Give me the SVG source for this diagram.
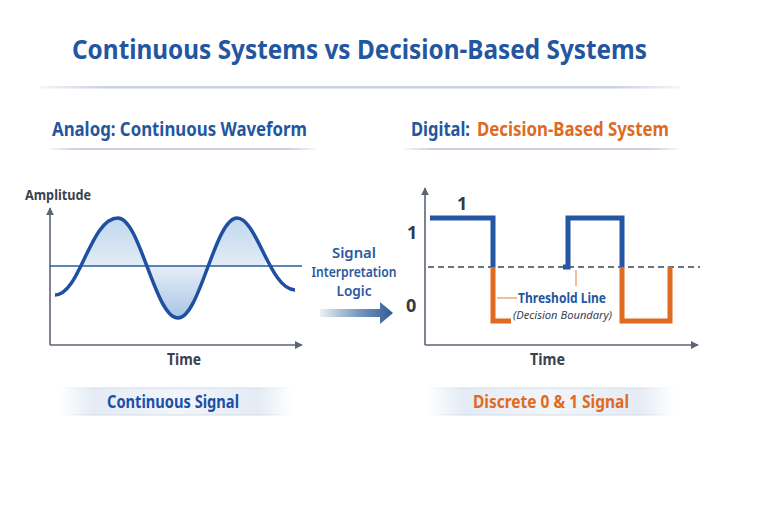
<svg xmlns="http://www.w3.org/2000/svg" width="768" height="512" viewBox="0 0 768 512">
<defs>
<style>
.t{font-family:"Noto Sans","Open Sans","Liberation Sans",sans-serif;font-weight:700}
.title{font-size:27px;fill:#2456a0}
.sub{font-size:19px;fill:#2456a0}
.axlab{font-size:14.5px;fill:#3a4250}
.time{font-size:16px;fill:#3a4250}
.mid{font-size:15px;font-weight:600;fill:#2a5aa0}
.bigdig{font-size:18px;fill:#333a44}
.axis{stroke:#5c6573;stroke-width:1.6;fill:none}
.blue{stroke:#2456a4;stroke-width:5;fill:none;stroke-linecap:butt;stroke-linejoin:miter}
.orange{stroke:#e06a1f;stroke-width:5;fill:none;stroke-linecap:butt;stroke-linejoin:miter}
</style>
<marker id="ah" viewBox="0 0 10 10" refX="9" refY="5" markerWidth="8" markerHeight="8" markerUnits="userSpaceOnUse" orient="auto">
<path d="M0,0 L10,5 L0,10 Z" fill="#5c6573"/>
</marker>
<linearGradient id="uline" x1="0" x2="1" y1="0" y2="0">
<stop offset="0" stop-color="#c9d2de" stop-opacity="0.2"/>
<stop offset="0.1" stop-color="#c9d2de"/>
<stop offset="0.9" stop-color="#c9d2de"/>
<stop offset="1" stop-color="#c9d2de" stop-opacity="0.2"/>
</linearGradient>
<linearGradient id="arrowg" x1="0" x2="1" y1="0" y2="0">
<stop offset="0" stop-color="#2c5a9c" stop-opacity="0.08"/>
<stop offset="0.6" stop-color="#4a72a8" stop-opacity="0.8"/>
<stop offset="1" stop-color="#2e5a96"/>
</linearGradient>
<linearGradient id="wavefill" x1="0" x2="0" y1="0" y2="1">
<stop offset="0" stop-color="#c2d7ee"/>
<stop offset="0.5" stop-color="#e3edf7"/>
<stop offset="1" stop-color="#a9c4e4"/>
</linearGradient>
<linearGradient id="band" x1="0" x2="1" y1="0" y2="0">
<stop offset="0" stop-color="#e4ebf4" stop-opacity="0"/>
<stop offset="0.15" stop-color="#e4ebf4"/>
<stop offset="0.5" stop-color="#f2f6fa"/>
<stop offset="0.85" stop-color="#e4ebf4"/>
<stop offset="1" stop-color="#e4ebf4" stop-opacity="0"/>
</linearGradient>
<linearGradient id="bandedge" x1="0" x2="1" y1="0" y2="0">
<stop offset="0" stop-color="#d4dce6" stop-opacity="0"/>
<stop offset="0.15" stop-color="#d4dce6"/>
<stop offset="0.85" stop-color="#d4dce6"/>
<stop offset="1" stop-color="#d4dce6" stop-opacity="0"/>
</linearGradient>
<clipPath id="wclip"><rect x="83" y="200" width="182" height="130"/></clipPath>
</defs>
<rect width="768" height="512" fill="#ffffff"/>

<g id="title">
<text class="t title" x="72" y="59" textLength="575" lengthAdjust="spacingAndGlyphs">Continuous Systems vs Decision-Based Systems</text>
<rect x="40" y="86" width="640" height="2.5" fill="url(#uline)"/>
</g>

<g id="analog-header">
<text class="t sub" x="52" y="136" textLength="255" lengthAdjust="spacingAndGlyphs">Analog: Continuous Waveform</text>
<rect x="50" y="148" width="266" height="2" fill="url(#uline)"/>
</g>

<g id="digital-header">
<text class="t sub" x="411" y="136" textLength="59" lengthAdjust="spacingAndGlyphs">Digital:</text>
<text class="t sub" x="477" y="136" fill="#e06a1f" style="fill:#e06a1f" textLength="192" lengthAdjust="spacingAndGlyphs">Decision-Based System</text>
<rect x="404" y="148" width="274" height="2" fill="url(#uline)"/>
</g>

<g id="analog-chart">
<text class="t axlab" x="25" y="200" textLength="66" lengthAdjust="spacingAndGlyphs">Amplitude</text>
<path class="axis" d="M50,345 L50,208" marker-end="url(#ah)"/>
<path class="axis" d="M50,345 L302,345" marker-end="url(#ah)"/>
<path d="M55,295 C80,295 90,218 118,218 C140,218 155,318 178,318 C200,318 215,218 237,218 C257,218 270,290 295,290 L295,266 L55,266 Z" fill="url(#wavefill)" clip-path="url(#wclip)"/>
<line x1="50" y1="266" x2="302" y2="266" stroke="#2a5c9c" stroke-width="1.6"/>
<path d="M55,295 C80,295 90,218 118,218 C140,218 155,318 178,318 C200,318 215,218 237,218 C257,218 270,290 295,290" fill="none" stroke="#1f4fa0" stroke-width="3.5"/>
<text class="t time" x="167" y="365" textLength="34" lengthAdjust="spacingAndGlyphs">Time</text>
</g>

<g id="interpretation">
<text class="t mid" x="354" y="258" text-anchor="middle" textLength="44" lengthAdjust="spacingAndGlyphs">Signal</text>
<text class="t mid" x="354" y="277" text-anchor="middle" textLength="85" lengthAdjust="spacingAndGlyphs">Interpretation</text>
<text class="t mid" x="354" y="296" text-anchor="middle" textLength="35" lengthAdjust="spacingAndGlyphs">Logic</text>
</g>

<g id="connectors">
<path d="M320,309 L380,309 L380,302 L393,313 L380,324 L380,317 L320,317 Z" fill="url(#arrowg)"/>
</g>

<g id="digital-chart">
<path class="axis" d="M425,345 L425,188" marker-end="url(#ah)"/>
<path class="axis" d="M425,345 L698,345" marker-end="url(#ah)"/>
<line x1="428" y1="267" x2="700" y2="267" stroke="#6a7280" stroke-width="2" stroke-dasharray="6,4"/>
<text class="t bigdig" x="457" y="210">1</text>
<text class="t bigdig" x="407" y="239">1</text>
<text class="t bigdig" x="406" y="312">0</text>
<path class="blue" d="M430,218 L493,218 L493,267"/>
<path class="orange" d="M493,267 L493,321 L511,321"/>
<path class="blue" d="M563,267 L568,267 L568,218 L622,218 L622,267"/>
<path class="orange" d="M622,267 L622,321 L670,321 L670,267"/>
<line x1="576" y1="270" x2="576" y2="286" stroke="#e9915a" stroke-width="1.2"/>
<line x1="497" y1="298" x2="517" y2="298" stroke="#e9915a" stroke-width="1.2"/>
<text class="t" x="518" y="303" font-size="14.5" font-weight="600" fill="#2456a0" textLength="88" lengthAdjust="spacingAndGlyphs">Threshold Line</text>
<text x="513" y="319" font-family="Noto Sans,Open Sans,Liberation Sans,sans-serif" font-size="11.5" font-style="italic" fill="#3a4250" textLength="99" lengthAdjust="spacingAndGlyphs">(Decision Boundary)</text>
<text class="t time" x="530" y="365" textLength="35" lengthAdjust="spacingAndGlyphs">Time</text>
</g>

<g id="continuous-label">
<rect x="60" y="388" width="232" height="27" fill="url(#band)"/>
<rect x="60" y="387.5" width="232" height="1" fill="url(#bandedge)"/>
<rect x="60" y="414.5" width="232" height="1" fill="url(#bandedge)"/>
<text class="t" x="173" y="408" text-anchor="middle" font-size="17" fill="#1d4fa8" textLength="132" lengthAdjust="spacingAndGlyphs">Continuous Signal</text>
</g>

<g id="discrete-label">
<rect x="427" y="388" width="248" height="27" fill="url(#band)"/>
<rect x="427" y="387.5" width="248" height="1" fill="url(#bandedge)"/>
<rect x="427" y="414.5" width="248" height="1" fill="url(#bandedge)"/>
<text class="t" x="551" y="408" text-anchor="middle" font-size="17" fill="#e06a1f" textLength="156" lengthAdjust="spacingAndGlyphs">Discrete 0 &amp; 1 Signal</text>
</g>
</svg>
